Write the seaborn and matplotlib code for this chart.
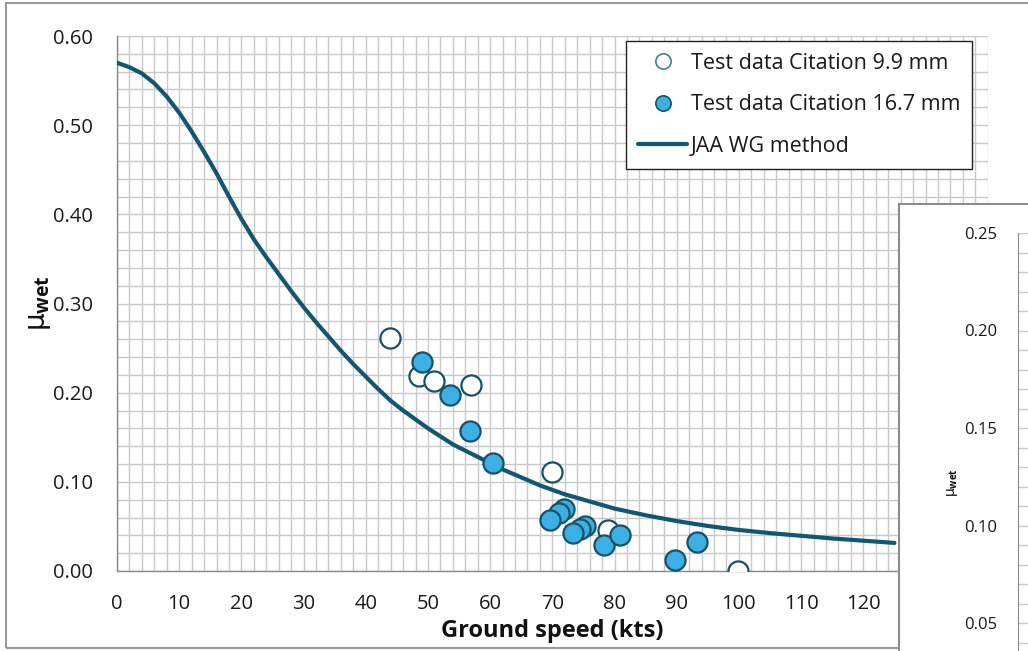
import matplotlib
matplotlib.use("Agg")
import matplotlib.pyplot as plt
import seaborn as sns
import numpy as np
import pandas as pd
from matplotlib.patches import Rectangle
from matplotlib.lines import Line2D

# ---------------- data ----------------
speed_99 = [43.9, 48.6, 50.9, 57.0, 69.9, 78.9, 99.8]
mu_99 = [0.261, 0.219, 0.213, 0.209, 0.111, 0.046, 0.000]

speed_167 = [49.0, 53.6, 56.7, 60.5, 71.9, 71.1, 69.6, 75.3, 74.5, 73.3, 78.3, 80.9, 89.8, 93.2]
mu_167 = [0.234, 0.197, 0.157, 0.121, 0.069, 0.065, 0.057, 0.050, 0.047, 0.043, 0.029, 0.040, 0.012, 0.033]

jaa_speed = [0, 2, 4, 6, 8, 10, 12, 14, 16, 18, 20, 22, 24, 26, 28, 30, 32, 34, 36, 38, 40,
             42, 44, 46, 48, 50, 52, 54, 56, 58, 60, 62, 64, 66, 68, 70, 72, 74, 76, 78, 80,
             85, 90, 95, 100, 105, 110, 115, 120, 125]
jaa_mu = [0.570, 0.565, 0.558, 0.547, 0.532, 0.514, 0.493, 0.470, 0.446, 0.420, 0.395,
          0.372, 0.352, 0.333, 0.314, 0.296, 0.279, 0.263, 0.247, 0.232, 0.218,
          0.204, 0.191, 0.180, 0.170, 0.160, 0.151, 0.142, 0.135, 0.128, 0.121,
          0.114, 0.108, 0.102, 0.096, 0.091, 0.086, 0.082, 0.078, 0.074, 0.070,
          0.0625, 0.0560, 0.0505, 0.0460, 0.0425, 0.0395, 0.0365, 0.0340, 0.0315]

x_ticks = [0, 10, 20, 30, 40, 50, 60, 70, 80, 90, 100, 110, 120]
y_ticks = [0.00, 0.10, 0.20, 0.30, 0.40, 0.50, 0.60]
inset_ticks = [0.05, 0.10, 0.15, 0.20, 0.25]

labels = ["Test data Citation 9.9 mm", "Test data Citation 16.7 mm", "JAA WG method"]

# ---------------- style ----------------
sns.set_style("white")
plt.rcParams["font.family"] = ["Open Sans", "DejaVu Sans"]
plt.rcParams["mathtext.fontset"] = "custom"
plt.rcParams["mathtext.rm"] = "DejaVu Sans"
plt.rcParams["mathtext.it"] = "DejaVu Sans"
plt.rcParams["mathtext.bf"] = "Open Sans:bold"

LINE_C = "#125671"
EDGE_C = "#17506a"
FILL_C = "#3cb0e3"
GRID_C = "#c9c9c9"
AXIS_C = "#8a8a8a"
TEXT_C = "#1a1a1a"

W, H = 1028, 651
fig = plt.figure(figsize=(W / 100, H / 100), dpi=100)
fig.patch.set_facecolor("white")

def fx(px):
    return px / W

def fy(py):
    return 1 - py / H

# outer chart frame
fig.patches.append(Rectangle((fx(6), fy(648)), 1.2, fy(3) - fy(648), transform=fig.transFigure,
                             fill=False, edgecolor="#9a9a9a", linewidth=1.5, zorder=0.5))

ax = fig.add_axes([fx(117), fy(571), fx(987.7) - fx(117), fy(36) - fy(571)])
ax.set_zorder(1)

df99 = pd.DataFrame({"speed": speed_99, "mu": mu_99})
df167 = pd.DataFrame({"speed": speed_167, "mu": mu_167})
dfl = pd.DataFrame({"speed": jaa_speed, "mu": jaa_mu})

sns.lineplot(data=dfl, x="speed", y="mu", ax=ax, color=LINE_C, linewidth=3.0, zorder=3,
             sort=False, estimator=None)
sns.scatterplot(data=df99, x="speed", y="mu", ax=ax, s=210, color="white", edgecolor=EDGE_C,
                linewidth=1.6, zorder=4)
sns.scatterplot(data=df167, x="speed", y="mu", ax=ax, s=210, color=FILL_C, edgecolor=EDGE_C,
                linewidth=1.6, zorder=5)

ax.set_xlim(0, 140)
ax.set_ylim(0, 0.60)
ax.set_xticks(x_ticks)
ax.set_xticklabels([str(v) for v in x_ticks])
ax.set_yticks(y_ticks)
ax.set_yticklabels([f"{v:.2f}" for v in y_ticks])
ax.set_xticks(np.arange(0, 141, 2), minor=True)
ax.set_yticks(np.arange(0, 0.601, 0.02), minor=True)
ax.grid(True, which="both", color=GRID_C, linewidth=1.0, zorder=0)
ax.set_axisbelow(True)
ax.tick_params(axis="both", which="major", direction="out", length=6.5, width=1.0,
               color=AXIS_C, labelsize=14.5, labelcolor=TEXT_C)
ax.tick_params(axis="y", which="major", pad=11)
ax.tick_params(axis="x", which="major", pad=10)
ax.tick_params(axis="both", which="minor", length=0)
for s in ["top", "right"]:
    ax.spines[s].set_visible(False)
for s in ["left", "bottom"]:
    ax.spines[s].set_color(AXIS_C)
    ax.spines[s].set_linewidth(1.0)

ax.set_xlabel("Ground speed (kts)", fontsize=17, fontweight="bold", labelpad=4, color="#111111")
ax.set_ylabel(r"$\mu_{\mathbf{wet}}$", fontsize=20, labelpad=0, color="#111111")

handles = [
    Line2D([], [], linestyle="none", marker="o", markersize=11, markerfacecolor="white",
           markeredgecolor="#3f7f99", markeredgewidth=1.2),
    Line2D([], [], linestyle="none", marker="o", markersize=11, markerfacecolor=FILL_C,
           markeredgecolor=EDGE_C, markeredgewidth=1.2),
    Line2D([], [], color=LINE_C, linewidth=3.0),
]
leg = ax.legend(handles, labels, loc="upper left",
                bbox_to_anchor=(fx(626), fy(41)), bbox_transform=fig.transFigure,
                fontsize=15.5, frameon=True, fancybox=False, framealpha=1,
                edgecolor="#222222", handlelength=2.3, handletextpad=0.15,
                labelspacing=0.95, borderpad=0.55, borderaxespad=0)
leg.get_frame().set_linewidth(1.0)
for t in leg.get_texts():
    t.set_color(TEXT_C)
leg.set_zorder(10)

# inset chart panel (second chart overlapping on the right)
panel = fig.add_axes([fx(899), -0.2, 0.3, fy(204) + 0.2])
panel.set_zorder(5)
panel.set_facecolor("white")
panel.set_xticks([])
panel.set_yticks([])
for s in panel.spines.values():
    s.set_color("#8c8c8c")
    s.set_linewidth(1.5)

y_top_px = 233
px_per_unit = 97.5 / 0.05
y_bot_px = y_top_px + 0.25 * px_per_unit
inset = fig.add_axes([fx(1018), fy(y_bot_px), 0.2, fy(y_top_px) - fy(y_bot_px)])
inset.set_zorder(6)
inset.patch.set_alpha(0)
inset.set_ylim(0, 0.25)
inset.set_xlim(0, 1)
inset.set_yticks(inset_ticks)
inset.set_yticklabels([f"{v:.2f}" for v in inset_ticks])
inset.set_yticks(np.arange(0, 0.2501, 0.01), minor=True)
inset.set_xticks([])
inset.grid(True, axis="y", which="both", color=GRID_C, linewidth=1.0)
inset.tick_params(axis="y", which="major", direction="out", length=4, width=1.0,
                  color=AXIS_C, labelsize=12, labelcolor=TEXT_C, pad=11)
inset.tick_params(axis="y", which="minor", length=0)
for s in ["top", "right", "bottom"]:
    inset.spines[s].set_visible(False)
inset.spines["left"].set_color(AXIS_C)
fig.text(fx(952), fy(483), r"$\mu_{\mathbf{wet}}$", rotation=90, fontsize=10,
         ha="center", va="center", zorder=7, color="#111111")

fig.savefig("out.png", dpi=100)
